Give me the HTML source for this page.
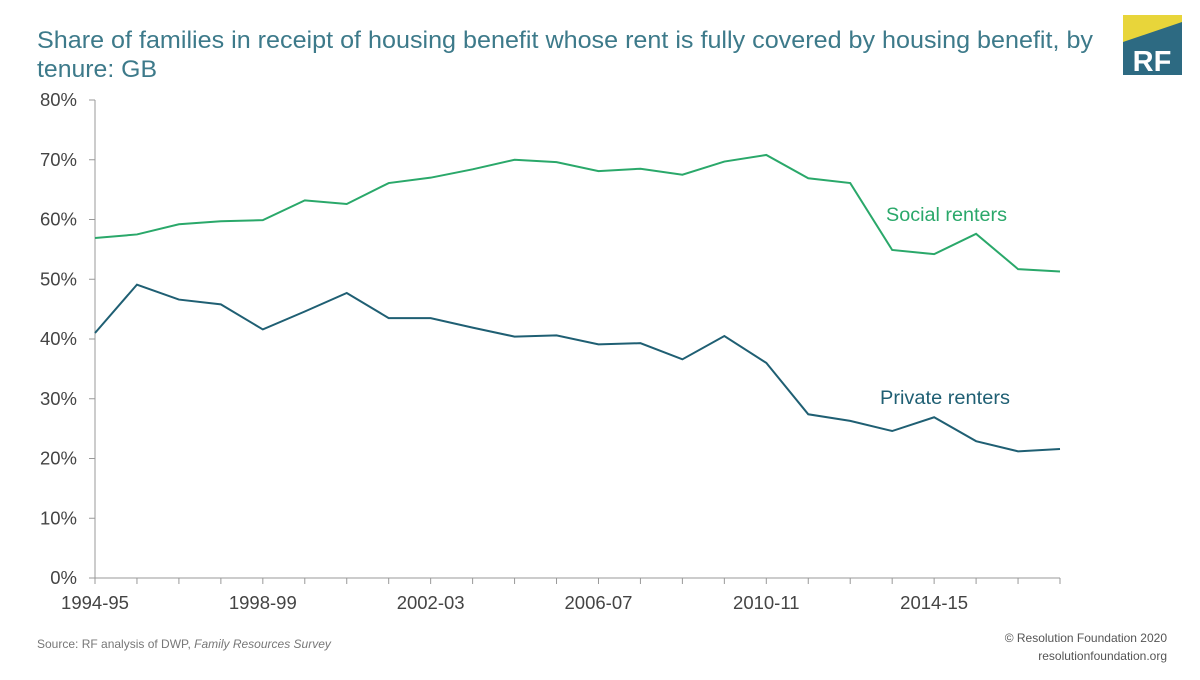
<!DOCTYPE html>
<html><head><meta charset="utf-8"><style>
body{margin:0;background:#fff;font-family:"Liberation Sans",sans-serif;}
svg text{font-family:"Liberation Sans",sans-serif;}
</style></head><body>
<svg width="1200" height="675" viewBox="0 0 1200 675">
<text x="37" y="48" font-size="24" fill="#3d7a8a" textLength="1056" lengthAdjust="spacingAndGlyphs">Share of families in receipt of housing benefit whose rent is fully covered by housing benefit, by</text>
<text x="37" y="77" font-size="24" fill="#3d7a8a" textLength="120" lengthAdjust="spacingAndGlyphs">tenure: GB</text>
<g>
<rect x="1123" y="15" width="59" height="60" fill="#2d6a82"/>
<polygon points="1123,15 1182,15 1182,22 1123,42" fill="#e8d53a"/>
<text x="1152" y="71" font-size="29" font-weight="bold" fill="#fff" text-anchor="middle">RF</text>
</g>
<g id="axes"></g>
<g id="marks"></g>
<text x="886" y="221" font-size="19.5" fill="#2aa86a" textLength="121" lengthAdjust="spacingAndGlyphs">Social renters</text>
<text x="880" y="404" font-size="19.5" fill="#1f5f73" textLength="130" lengthAdjust="spacingAndGlyphs">Private renters</text>
<text x="37" y="648" font-size="12" fill="#777">Source: RF analysis of DWP, <tspan font-style="italic">Family Resources Survey</tspan></text>
<text x="1167" y="642" font-size="12" fill="#555" text-anchor="end">© Resolution Foundation 2020</text>
<text x="1167" y="660" font-size="12" fill="#555" text-anchor="end">resolutionfoundation.org</text>
</svg>
<script>
const years = ["1994-95","1995-96","1996-97","1997-98","1998-99","1999-00","2000-01","2001-02","2002-03","2003-04","2004-05","2005-06","2006-07","2007-08","2008-09","2009-10","2010-11","2011-12","2012-13","2013-14","2014-15","2015-16","2016-17","2017-18"];
const socialRenters = [56.9,57.5,59.2,59.7,59.9,63.2,62.6,66.1,67.0,68.4,70.0,69.6,68.1,68.5,67.5,69.7,70.8,66.9,66.1,54.9,54.2,57.6,51.7,51.3];
const privateRenters = [41.0,49.1,46.6,45.8,41.6,44.6,47.7,43.5,43.5,41.9,40.4,40.6,39.1,39.3,36.6,40.5,36.0,27.4,26.3,24.6,26.9,22.9,21.2,21.6];
const yTicks = [0,10,20,30,40,50,60,70,80];
const xLabelYears = ["1994-95","1998-99","2002-03","2006-07","2010-11","2014-15"];
const NS="http://www.w3.org/2000/svg";
const x0=95,x1=1060,y0=578,y1=100;
const xs=i=>x0+(x1-x0)*i/(years.length-1);
const ys=v=>y0-(y0-y1)*v/80;
function el(t,a,p){const e=document.createElementNS(NS,t);for(const k in a)e.setAttribute(k,a[k]);p.appendChild(e);return e;}
const ax=document.getElementById('axes'),mk=document.getElementById('marks');
yTicks.forEach(v=>{
 const t=el('text',{x:77,y:ys(v)+6,'font-size':18.5,fill:'#444','text-anchor':'end'},ax);
 t.textContent=v+'%';
 
 
 el('line',{x1:89,x2:95,y1:ys(v),y2:ys(v),stroke:'#999'},ax);
});
const ya=el('line',{x1:95,x2:95,y1:y1,y2:y0,stroke:'#999'},ax);


const xa=el('line',{x1:95,x2:x1,y1:y0,y2:y0,stroke:'#999'},ax);


years.forEach((y,i)=>{el('line',{x1:xs(i),x2:xs(i),y1:y0,y2:y0+6,stroke:'#999'},ax);});
xLabelYears.forEach(y=>{
 const i=years.indexOf(y);
 const t=el('text',{x:xs(i),y:y0+31,'font-size':18.5,fill:'#444','text-anchor':'middle'},ax);
 t.textContent=y;
 
 
});
function line(data,color,name){
 const p=el('polyline',{points:data.map((v,i)=>xs(i)+','+ys(v)).join(' '),fill:'none',stroke:color,'stroke-width':2},mk);
 
 
}
line(socialRenters,'#2aa86a','social-renters-line');
line(privateRenters,'#1f5f73','private-renters-line');
</script>
</body></html>
